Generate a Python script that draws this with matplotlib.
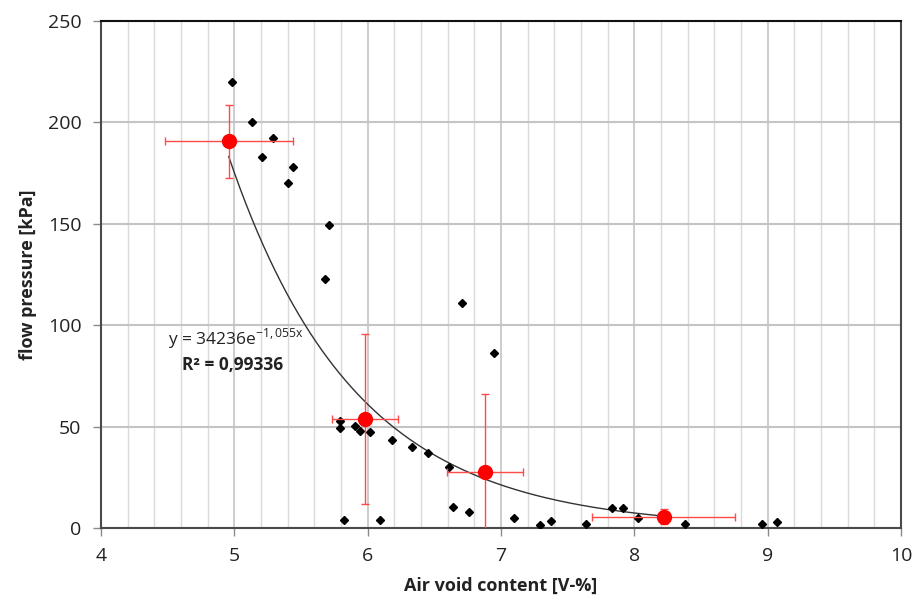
import numpy as np
import matplotlib
matplotlib.use("Agg")
import matplotlib.pyplot as plt
from matplotlib.ticker import MultipleLocator

plt.rcParams['font.family'] = ['Open Sans', 'DejaVu Sans']
plt.rcParams['mathtext.fontset'] = 'custom'
plt.rcParams['mathtext.rm'] = 'Open Sans'

# Individual specimens
void_x = [4.98, 5.135, 5.29, 5.21, 5.44, 5.405, 5.71, 5.68,
          5.79, 5.79, 5.905, 5.94, 6.02, 6.18, 6.33, 6.45, 6.61,
          5.825, 6.09, 6.71, 6.95, 6.64, 6.76, 7.10, 7.29, 7.375,
          7.64, 7.835, 7.915, 8.03, 8.38, 8.96, 9.07]
pressure_y = [220, 200, 192.4, 183, 178, 170, 149.6, 123,
              52.8, 49.2, 50.2, 48, 47.2, 43.6, 40, 37.2, 30.1,
              3.8, 3.8, 110.8, 86.2, 10.5, 7.7, 5.1, 1.6, 3.5,
              2.1, 9.7, 9.7, 5.1, 2.1, 2.1, 2.8]

# Group means with standard deviations
mean_x = [4.958, 5.98, 6.88, 8.22]
mean_y = [190.6, 53.8, 27.6, 5.6]
err_x = [0.48, 0.25, 0.285, 0.535]
err_y = [17.9, 42.0, 38.7, 3.8]

# Exponential trend line y = a * exp(b * x)
fit_a = 34236
fit_b = -1.055

fig = plt.figure(figsize=(9.16, 6.06), dpi=100)
ax = fig.add_axes([101 / 916, 1 - 528 / 606, 800 / 916, 507 / 606])

ax.set_xlim(4, 10)
ax.set_ylim(0, 250)
ax.xaxis.set_major_locator(MultipleLocator(1))
ax.xaxis.set_minor_locator(MultipleLocator(0.2))
ax.yaxis.set_major_locator(MultipleLocator(50))

ax.grid(which='major', axis='x', color='#c4c4c4', linewidth=1.2)
ax.grid(which='minor', axis='x', color='#dadada', linewidth=1.0)
ax.grid(which='major', axis='y', color='#c4c4c4', linewidth=1.5)
ax.set_axisbelow(True)

for side in ['left', 'bottom', 'right']:
    ax.spines[side].set_color('#4a4a4a')
    ax.spines[side].set_linewidth(1.5)
ax.spines['top'].set_color('#111111')
ax.spines['top'].set_linewidth(1.5)

ax.tick_params(axis='both', which='major', length=6, width=1, color='#8a8a8a',
               labelsize=14, labelcolor='#222222', pad=8)
ax.tick_params(axis='x', which='minor', length=0)

xs = np.linspace(mean_x[0], mean_x[-1], 300)
ax.plot(xs, fit_a * np.exp(fit_b * xs), color='#333333', linewidth=1.0, zorder=3)

ax.plot(void_x, pressure_y, linestyle='none', marker='D', markersize=3.6,
        color='black', zorder=4)

ax.errorbar(mean_x, mean_y, xerr=err_x, yerr=err_y, fmt='o', color='#ff0000',
            ecolor='#ff4a4a', elinewidth=1.0, capsize=3, capthick=1.0,
            markersize=10, zorder=5, clip_on=True)

ax.text(4.5, 90.5, r"y = 34236e$^{\mathregular{-1,055x}}$", fontsize=12.5,
        color='#222222', va='baseline')
ax.text(4.61, 78, "R² = 0,99336", fontsize=12.5, fontweight='bold',
        color='#222222', va='baseline')

ax.set_xlabel("Air void content [V-%]", fontsize=13, fontweight='bold',
              color='#222222', labelpad=8)
ax.set_ylabel("flow pressure [kPa]", fontsize=13, fontweight='bold',
              color='#222222', labelpad=8)

fig.savefig("out.png", dpi=100)
